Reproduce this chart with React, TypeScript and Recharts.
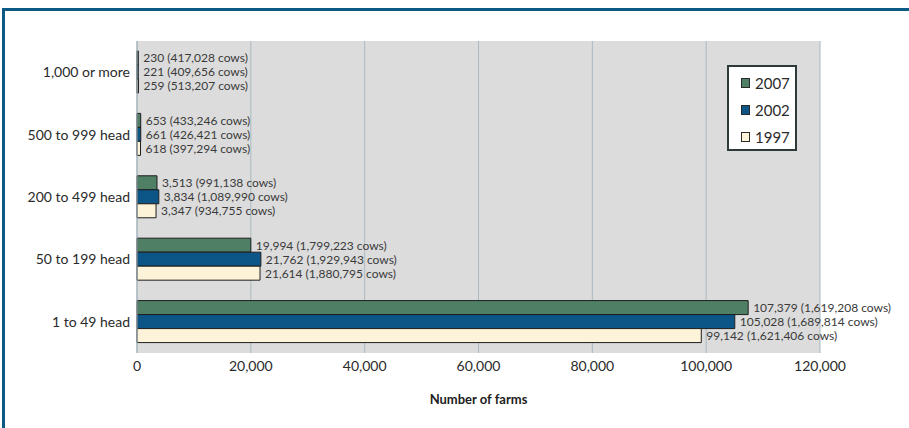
import { BarChart, Bar, XAxis, YAxis, CartesianGrid, Legend, LabelList } from 'recharts';

// Herd size classes, top to bottom
const categories = ['1,000 or more', '500 to 999 head', '200 to 499 head', '50 to 199 head', '1 to 49 head'];

const farms2007 = [230, 653, 3513, 19994, 107379];
const cows2007 = [417028, 433246, 991138, 1799223, 1619208];
const farms2002 = [221, 661, 3834, 21762, 105028];
const cows2002 = [409656, 426421, 1089990, 1929943, 1689814];
const farms1997 = [259, 618, 3347, 21614, 99142];
const cows1997 = [513207, 397294, 934755, 1880795, 1621406];

const xTicks = [0, 20000, 40000, 60000, 80000, 100000, 120000];

const SERIES = [
  { key: 'y2007', cowsKey: 'c2007', name: '2007', color: '#4f7f64' },
  { key: 'y2002', cowsKey: 'c2002', name: '2002', color: '#0b5686' },
  { key: 'y1997', cowsKey: 'c1997', name: '1997', color: '#fdf3d8' },
];

const FONT = 'Lato, "Open Sans", sans-serif';

const data = categories.map((name, i) => ({
  name,
  y2007: farms2007[i],
  c2007: cows2007[i],
  y2002: farms2002[i],
  c2002: cows2002[i],
  y1997: farms1997[i],
  c1997: cows1997[i],
}));

const fmt = (v: number) => v.toLocaleString('en-US');

function makeLabel(cowsKey: string) {
  return (props: any) => {
    const { x, y, width, height, value, index } = props;
    const cows = (data[index] as any)[cowsKey];
    return (
      <text
        x={x + width + 5}
        y={y + height / 2}
        dominantBaseline="central"
        fontSize={12}
        fill="#3a3a3a"
        fontFamily={FONT}
      >
        {fmt(value)} ({fmt(cows)} cows)
      </text>
    );
  };
}

function LegendBox() {
  return (
    <div
      style={{
        width: 70,
        height: 86,
        background: '#fff',
        border: '2px solid #2e3a3a',
        boxSizing: 'border-box',
        paddingTop: 2,
        fontFamily: FONT,
      }}
    >
      {SERIES.map(s => (
        <div key={s.key} style={{ display: 'flex', alignItems: 'center', height: 27, paddingLeft: 12 }}>
          <span
            style={{
              display: 'inline-block',
              width: 7,
              height: 8,
              background: s.color,
              border: '1px solid #2a2a2a',
              marginRight: 5,
            }}
          />
          <span style={{ fontSize: 15, color: '#2a2a2a' }}>{s.name}</span>
        </div>
      ))}
    </div>
  );
}

export default function App() {
  return (
    <div
      style={{
        position: 'fixed',
        left: 0,
        top: 0,
        width: 909,
        height: 428,
        background: '#fff',
      }}
    >
      {/* dark blue frame, top and left only */}
      <div style={{ position: 'absolute', left: 2, top: 8, right: 0, height: 3, background: '#0b5a86' }} />
      <div style={{ position: 'absolute', left: 2, top: 8, bottom: 0, width: 3, background: '#0b5a86' }} />
      <BarChart
        width={909}
        height={428}
        data={data}
        layout="vertical"
        margin={{ top: 41, right: 89, bottom: 0, left: 0 }}
        barCategoryGap="16%"
        barGap={0}
      >
        <CartesianGrid
          fill="#dcdcdc"
          stroke="#aab9c1"
          horizontal={false}
          vertical
        />
        <XAxis
          type="number"
          domain={[0, 120000]}
          ticks={xTicks}
          tickFormatter={fmt}
          axisLine={false}
          tickLine={false}
          tickSize={0}
          tickMargin={8}
          height={75}
          tick={{ fontSize: 14, fill: '#2a2a2a', fontFamily: FONT }}
          label={{
            value: 'Number of farms',
            position: 'insideBottom',
            offset: 24,
            style: { fontSize: 13, fontWeight: 700, fill: '#222', fontFamily: FONT },
          }}
        />
        <YAxis
          type="category"
          dataKey="name"
          width={137}
          axisLine={{ stroke: '#9fb0b8' }}
          tickLine={false}
          tickSize={0}
          tickMargin={7}
          tick={{ fontSize: 14, fill: '#2a2a2a', fontFamily: FONT }}
        />
        <Legend
          content={<LegendBox />}
          wrapperStyle={{ left: 727, top: 65, width: 70, height: 0, overflow: 'visible' }}
        />
        {SERIES.map(s => (
          <Bar
            key={s.key}
            dataKey={s.key}
            name={s.name}
            fill={s.color}
            stroke="#1e1e1e"
            strokeWidth={1}
            isAnimationActive={false}
          >
            <LabelList dataKey={s.key} content={makeLabel(s.cowsKey)} />
          </Bar>
        ))}
      </BarChart>
    </div>
  );
}
